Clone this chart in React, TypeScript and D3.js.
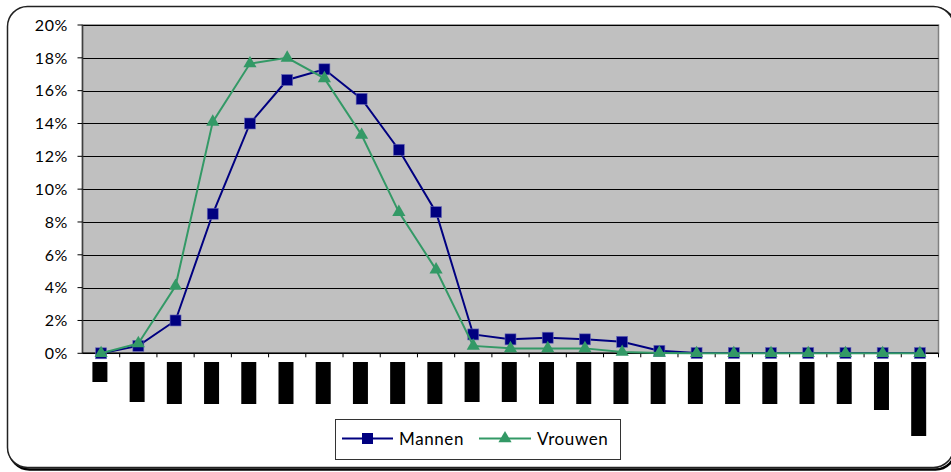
import React from 'react';
import * as d3 from 'd3';

const categories = ['c01','c02','c03','c04','c05','c06','c07','c08','c09','c10','c11','c12','c13','c14','c15','c16','c17','c18','c19','c20','c21','c22','c23'];
const labelLengths = [20, 40, 42, 42, 42, 42, 42, 42, 42, 42, 40, 40, 42, 42, 42, 42, 42, 42, 42, 42, 42, 48, 74];
const mannen = [0, 0.45, 2.0, 8.5, 14.0, 16.65, 17.3, 15.5, 12.4, 8.6, 1.15, 0.85, 0.95, 0.85, 0.7, 0.15, 0.02, 0.02, 0.02, 0.02, 0.02, 0.02, 0.02];
const vrouwen = [0, 0.6, 4.1, 14.1, 17.65, 18.0, 16.75, 13.3, 8.6, 5.1, 0.45, 0.3, 0.3, 0.3, 0.08, 0.02, 0, 0, 0, 0, 0, 0, 0];
const yTicks = [0, 2, 4, 6, 8, 10, 12, 14, 16, 18, 20];
const seriesNames = ['Mannen', 'Vrouwen'];

const W = 951, H = 472;
const left = 82.5, right = 938.5, top = 25, bottom = 353.3;
const NAVY = '#000080', GREEN = '#339966';
const FONT = 'Lato, "DejaVu Sans", sans-serif';

export default function App() {
  const x = d3.scaleBand<string>().domain(categories).range([left, right]).padding(0);
  const y = d3.scaleLinear().domain([0, 20]).range([bottom, top]);
  const cx = (i: number) => (x(categories[i]) as number) + x.bandwidth() / 2;
  const line = d3.line<number>().x((_, i) => cx(i)).y(d => y(d));
  const tri = d3.symbol().type(d3.symbolTriangle).size(75)() as string;

  return (
    <svg width={W} height={H} style={{ position: 'absolute', left: 0, top: 0, display: 'block' }}>
      {/* outer frame with shadow */}
      <rect x={9.5} y={8.5} width={946} height={461} rx={20} fill="none" stroke="#000" strokeWidth={2.5} />
      <rect x={7.5} y={6.5} width={946} height={461} rx={20} fill="#fff" stroke="#222" strokeWidth={1.5} />

      {/* plot area */}
      <rect x={left} y={top} width={right - left} height={bottom - top} fill="#C0C0C0" stroke="#808080" strokeWidth={1.5} />
      {yTicks.filter(t => t > 0).map(t => (
        <line key={'g' + t} x1={left} x2={right} y1={Math.round(y(t)) + 0.5} y2={Math.round(y(t)) + 0.5} stroke="#000" strokeWidth={1} />
      ))}
      {/* y axis */}
      <line x1={left} x2={left} y1={top} y2={bottom} stroke="#404040" strokeWidth={1.5} />
      {yTicks.map(t => (
        <g key={'y' + t}>
          <line x1={left - 5} x2={left} y1={y(t)} y2={y(t)} stroke="#000" strokeWidth={1} />
          <text x={68} y={y(t)} dy="0.36em" textAnchor="end" fontFamily={FONT} fontSize={16} letterSpacing={0.6} fill="#000">{t}%</text>
        </g>
      ))}
      {/* x axis */}
      <line x1={left} x2={right} y1={bottom} y2={bottom} stroke="#000" strokeWidth={1.5} />
      {categories.map((c, i) => (
        <line key={'xt' + c} x1={(x(c) as number) + x.bandwidth()} x2={(x(c) as number) + x.bandwidth()} y1={bottom} y2={bottom + 4} stroke="#000" strokeWidth={1} />
      ))}
      {/* redacted category labels */}
      {categories.map((c, i) => (
        <rect key={'lb' + c} x={cx(i) - 8.7} y={362} width={15} height={labelLengths[i]} fill="#000" />
      ))}

      {/* series */}
      <path d={line(mannen) as string} fill="none" stroke={NAVY} strokeWidth={2} />
      {mannen.map((v, i) => (
        <rect key={'m' + i} x={cx(i) - 5.5} y={y(v) - 5.5} width={11} height={11} fill={NAVY} stroke="#6a6ab8" strokeWidth={0.6} />
      ))}
      <path d={line(vrouwen) as string} fill="none" stroke={GREEN} strokeWidth={2} />
      {vrouwen.map((v, i) => (
        <path key={'v' + i} d={tri} transform={`translate(${cx(i)},${y(v)})`} fill={GREEN} />
      ))}

      {/* legend */}
      <rect x={335.5} y={419.5} width={285} height={40} fill="#fff" stroke="#333" strokeWidth={1} />
      <line x1={342} x2={393} y1={438.5} y2={438.5} stroke={NAVY} strokeWidth={2} />
      <rect x={362} y={433} width={11} height={11} fill={NAVY} />
      <text x={399} y={438.5} dy="0.36em" fontFamily={FONT} fontSize={17} letterSpacing={0.6} fill="#000">{seriesNames[0]}</text>
      <line x1={479} x2={531} y1={438.5} y2={438.5} stroke={GREEN} strokeWidth={2} />
      <path d={tri} transform={`translate(505,438.5)`} fill={GREEN} />
      <text x={537} y={438.5} dy="0.36em" fontFamily={FONT} fontSize={17} letterSpacing={0.6} fill="#000">{seriesNames[1]}</text>
    </svg>
  );
}
